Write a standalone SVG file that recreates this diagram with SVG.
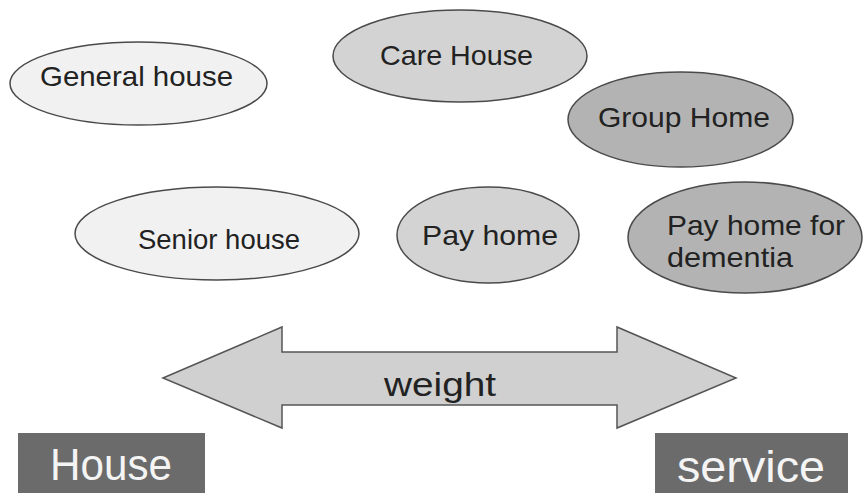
<svg xmlns="http://www.w3.org/2000/svg" width="867" height="493" viewBox="0 0 867 493">
  <style>
    .node ellipse { stroke: #4a4a4a; stroke-width: 1.5; }
    .lbl { font-family: "Liberation Sans", Arial, sans-serif; font-size: 28px; fill: #222222; }
    .light { fill: #f1f1f1; }
    .mid { fill: #d3d3d3; }
    .dark { fill: #b3b3b3; }
    .tag rect { fill: #6b6b6b; }
    .tag text { font-family: "Liberation Sans", Arial, sans-serif; font-size: 44px; fill: #f4f4f4; }
  </style>
  <rect width="867" height="493" fill="#ffffff"/>

  <g id="general-house" class="node">
    <ellipse class="light" cx="138.5" cy="83.5" rx="128.5" ry="41.5"/>
    <text class="lbl" x="40" y="86" textLength="193" lengthAdjust="spacingAndGlyphs">General house</text>
  </g>

  <g id="care-house" class="node">
    <ellipse class="mid" cx="460" cy="56" rx="127" ry="46"/>
    <text class="lbl" x="380" y="65" textLength="153" lengthAdjust="spacingAndGlyphs">Care House</text>
  </g>

  <g id="group-home" class="node">
    <ellipse class="dark" cx="680.5" cy="119.5" rx="112.5" ry="47.5"/>
    <text class="lbl" x="598" y="127" textLength="172" lengthAdjust="spacingAndGlyphs">Group Home</text>
  </g>

  <g id="senior-house" class="node">
    <ellipse class="light" cx="217" cy="233.5" rx="142" ry="46.5"/>
    <text class="lbl" x="138" y="249" textLength="162" lengthAdjust="spacingAndGlyphs">Senior house</text>
  </g>

  <g id="pay-home" class="node">
    <ellipse class="mid" cx="488" cy="235" rx="91" ry="48"/>
    <text class="lbl" x="422" y="245" textLength="136" lengthAdjust="spacingAndGlyphs">Pay home</text>
  </g>

  <g id="pay-home-dementia" class="node">
    <ellipse class="dark" cx="745" cy="237.5" rx="117" ry="55.5"/>
    <text class="lbl" x="667" y="235" textLength="178" lengthAdjust="spacingAndGlyphs">Pay home for</text>
    <text class="lbl" x="667" y="267" textLength="126" lengthAdjust="spacingAndGlyphs">dementia</text>
  </g>

  <g id="connectors">
    <g id="weight-arrow">
      <polygon points="163,378 282,327 282,352 617,352 617,327 736,378 617,428 617,405 282,405 282,428"
               fill="#d0d0d0" stroke="#555555" stroke-width="1.5" stroke-linejoin="miter"/>
      <text x="384" y="396" textLength="112" lengthAdjust="spacingAndGlyphs"
            font-family="Liberation Sans, Arial, sans-serif" font-size="34" fill="#222222">weight</text>
    </g>
  </g>

  <g id="house-tag" class="tag">
    <rect x="18" y="433" width="187" height="60"/>
    <text x="50" y="480" textLength="122" lengthAdjust="spacingAndGlyphs">House</text>
  </g>

  <g id="service-tag" class="tag">
    <rect x="655" y="433" width="193" height="60"/>
    <text x="677" y="482" textLength="148" lengthAdjust="spacingAndGlyphs">service</text>
  </g>
</svg>
